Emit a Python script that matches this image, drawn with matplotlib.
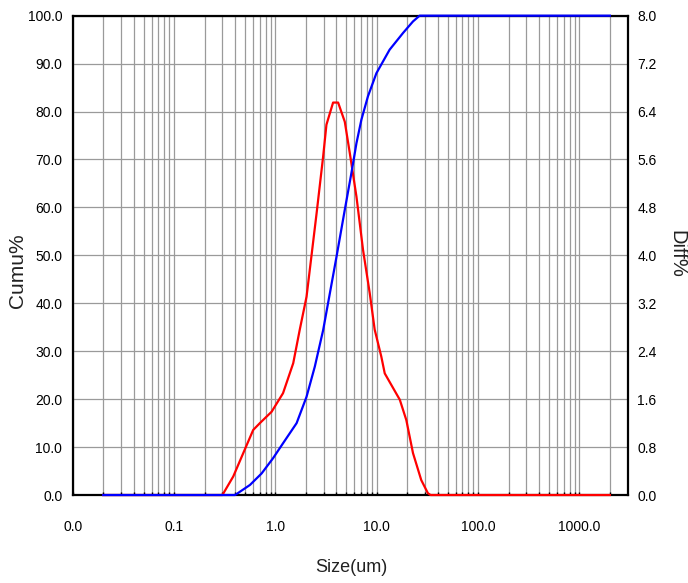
import matplotlib
matplotlib.use("Agg")
import matplotlib.pyplot as plt
from matplotlib.ticker import FixedLocator, FixedFormatter, NullFormatter

# ---- data ----
size_cumu = [0.02, 0.4, 0.561, 0.731, 0.95, 1.19, 1.62, 2.03, 2.45, 2.96, 4.01, 4.84,
             5.63, 6.31, 7.06, 8.2, 9.93, 13.4, 18.2, 22.8, 26.5, 2000]
cumu = [0, 0, 2.1, 4.5, 7.7, 10.8, 15.0, 20.5, 26.8, 34.4, 49.7, 59.5,
        67.2, 73.4, 78.3, 83.2, 88.0, 92.9, 96.4, 98.8, 100, 100]

size_diff = [0.02, 0.30, 0.384, 0.482, 0.604, 0.703, 0.918, 1.19, 1.50, 1.74, 2.03, 2.55,
             2.96, 3.19, 3.71, 4.16, 4.84, 5.42, 6.31, 7.33, 8.53, 9.55, 11.1, 12.0,
             16.9, 19.6, 22.8, 27.5, 32, 34, 2000]
diff = [0, 0, 0.31, 0.70, 1.086, 1.20, 1.39, 1.70, 2.20, 2.76, 3.31, 4.70,
        5.65, 6.18, 6.55, 6.55, 6.23, 5.71, 4.98, 4.09, 3.37, 2.76, 2.31, 2.03,
        1.59, 1.25, 0.70, 0.25, 0.03, 0, 0]

x_major = [0.01, 0.1, 1, 10, 100, 1000]
x_labels = ["0.0", "0.1", "1.0", "10.0", "100.0", "1000.0"]
x_grid = [m * 10.0 ** k for k in range(-2, 3) for m in range(1, 10)] + [1000, 2000]
cumu_ticks = [0, 10, 20, 30, 40, 50, 60, 70, 80, 90, 100]
diff_ticks = [0, 0.8, 1.6, 2.4, 3.2, 4.0, 4.8, 5.6, 6.4, 7.2, 8.0]

tick_font = ["Liberation Sans Narrow", "Liberation Sans", "DejaVu Sans"]
label_font = ["Liberation Sans", "DejaVu Sans"]

fig = plt.figure(figsize=(6.88, 5.83), dpi=100)
ax_d = fig.add_axes([0.1057, 0.1509, 0.8067, 0.8222])
ax_c = ax_d.twinx()

for ax in (ax_d, ax_c):
    ax.set_xscale("log")
    ax.set_xlim(0.01, 3000)

ax_d.set_ylim(0, 8.0)
ax_c.set_ylim(0, 100)

# grid (on the lower axes)
for xv in x_grid:
    ax_d.axvline(xv, color="#9a9a9a", lw=0.9, zorder=0.5)
for yv in diff_ticks:
    ax_d.axhline(yv, color="#9a9a9a", lw=0.9, zorder=0.5)

# x ticks
ax_d.xaxis.set_major_locator(FixedLocator(x_major))
ax_d.xaxis.set_major_formatter(FixedFormatter(x_labels))
ax_d.xaxis.set_minor_locator(FixedLocator(x_grid))
ax_d.xaxis.set_minor_formatter(NullFormatter())
ax_d.tick_params(axis="x", which="both", direction="in", length=2, width=1,
                 pad=18, labelsize=10, colors="black")
for t in ax_d.get_xticklabels():
    t.set_family(tick_font)
ax_c.tick_params(axis="x", which="both", length=0, labelbottom=False)

# right axis (diff) on ax_d
ax_d.yaxis.tick_right()
ax_d.yaxis.set_label_position("right")
ax_d.yaxis.set_major_locator(FixedLocator(diff_ticks))
ax_d.yaxis.set_major_formatter(FixedFormatter([f"{v:.1f}" for v in diff_ticks]))
ax_d.tick_params(axis="y", length=0, pad=7, labelsize=10, labelleft=False, labelright=True)
for t in ax_d.get_yticklabels():
    t.set_family(tick_font)

# left axis (cumu) on ax_c
ax_c.yaxis.tick_left()
ax_c.yaxis.set_label_position("left")
ax_c.yaxis.set_major_locator(FixedLocator(cumu_ticks))
ax_c.yaxis.set_major_formatter(FixedFormatter([f"{v:.1f}" for v in cumu_ticks]))
ax_c.tick_params(axis="y", length=0, pad=7.5, labelsize=10, labelleft=True, labelright=False)
for t in ax_c.get_yticklabels():
    t.set_family(tick_font)

# curves
ax_d.plot(size_diff, diff, color="#ff0000", lw=1.6, zorder=3, clip_on=False)
ax_c.plot(size_cumu, cumu, color="#0000ff", lw=1.6, zorder=3, clip_on=False)

for s in ax_d.spines.values():
    s.set_linewidth(1.6)
    s.set_color("black")
    s.set_zorder(2)
for s in ax_c.spines.values():
    s.set_visible(False)

ax_d.patch.set_facecolor("white")
ax_c.patch.set_alpha(0)

fig.text(0.025, 0.535, "Cumu%", rotation=90, ha="center", va="center",
         fontsize=15, family=label_font, color="#222222")
fig.text(0.984, 0.564, "Diff%", rotation=270, ha="center", va="center",
         fontsize=14.5, family=label_font, color="#222222")
fig.text(0.51, 0.027, "Size(um)", ha="center", va="center",
         fontsize=13, family=tick_font, color="#222222")

fig.savefig("out.png", dpi=100)
